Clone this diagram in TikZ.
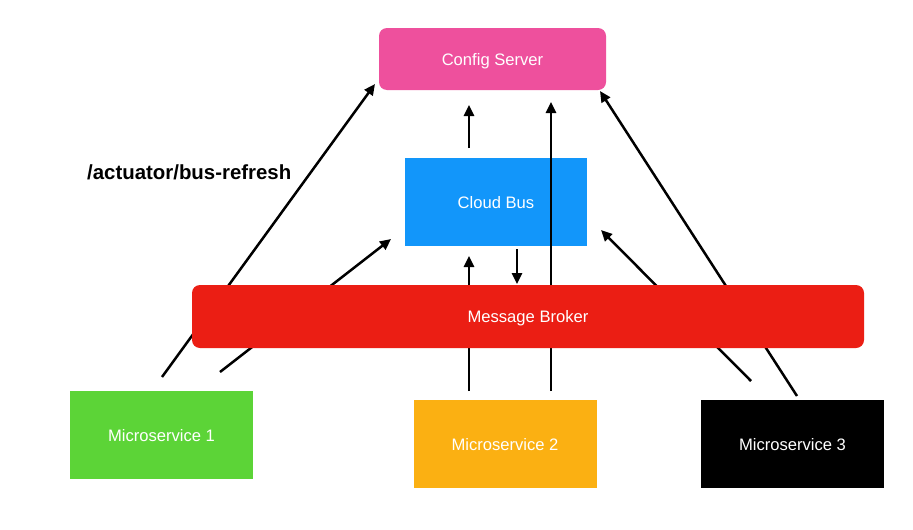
\documentclass[tikz,border=0pt]{standalone}
\usepackage{fontspec}
\setmainfont{Liberation Sans}
\usetikzlibrary{arrows.meta}
\definecolor{cfgpink}{RGB}{238,80,157}
\definecolor{busblue}{RGB}{18,150,250}
\definecolor{brokerred}{RGB}{235,30,20}
\definecolor{msgreen}{RGB}{92,212,55}
\definecolor{msorange}{RGB}{251,176,18}
\tikzset{
  box/.style={draw=none, text=white, font=\fontsize{16.6}{19}\selectfont, inner sep=0pt, text depth=0pt, text height=12pt},
  conn/.style={line width=2.5pt, -{Triangle[length=11pt,width=10pt]}},
}
\begin{document}
\begin{tikzpicture}[x=1pt,y=-1pt]
\useasboundingbox[fill=white] (0,0) rectangle (913,530);
% boxes drawn beneath the connectors
\node[box, fill=cfgpink, rounded corners=8pt, minimum width=227pt, minimum height=62pt] (cfg) at (492.5,59) {Config Server};
\node[box, fill=busblue, minimum width=182pt, minimum height=88pt] (bus) at (496,202) {Cloud Bus};
\node[box, fill=msgreen, minimum width=183pt, minimum height=88pt] (ms1) at (161.5,435) {Microservice 1};
\node[box, fill=msorange, minimum width=183pt, minimum height=88pt] (ms2) at (505,444) {Microservice 2};
\node[box, fill=black, minimum width=183pt, minimum height=88pt] (ms3) at (792.5,444) {Microservice 3};
\node[anchor=west, font=\bfseries\fontsize{20.4}{22}\selectfont, inner sep=0pt] (lbl) at (87,172) {/actuator/bus-refresh};
% connector end points
\coordinate (a1s) at (162,377); \coordinate (a1e) at (375,84);
\coordinate (a2s) at (220,372); \coordinate (a2e) at (391,239);
\coordinate (a3s) at (469,148); \coordinate (a3e) at (469,105);
\coordinate (a4s) at (551,391); \coordinate (a4e) at (551,102);
\coordinate (a5s) at (469,391); \coordinate (a5e) at (469,256);
\coordinate (a6s) at (517,249); \coordinate (a6e) at (517,284);
\coordinate (a7s) at (751,381); \coordinate (a7e) at (601,230);
\coordinate (a8s) at (797,396); \coordinate (a8e) at (600,91);
\draw[conn] (a1s) -- (a1e);
\draw[conn] (a2s) -- (a2e);
\draw[conn] (a3s) -- (a3e);
\draw[conn] (a4s) -- (a4e);
\draw[conn] (a5s) -- (a5e);
\draw[conn] (a6s) -- (a6e);
\draw[conn] (a7s) -- (a7e);
\draw[conn] (a8s) -- (a8e);
% broker drawn over the connectors
\node[box, fill=brokerred, rounded corners=8pt, minimum width=672pt, minimum height=63pt] (broker) at (528,316.5) {Message Broker};
\end{tikzpicture}
\end{document}
